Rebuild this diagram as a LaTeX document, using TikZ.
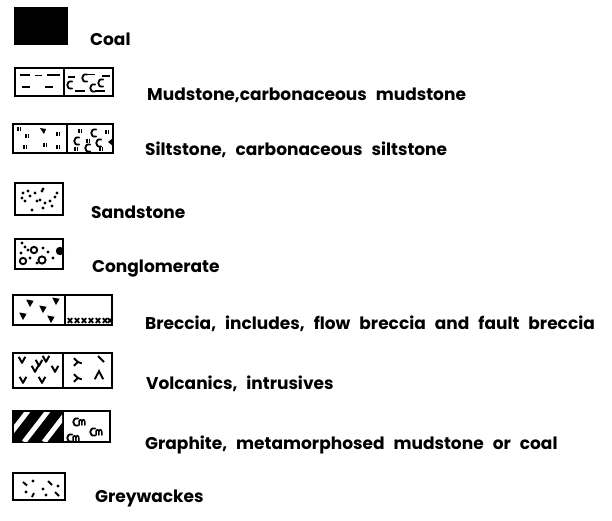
\documentclass[tikz,border=0pt]{standalone}
\usepackage{fontspec}
\setmainfont{Poppins}
\usetikzlibrary{positioning}

\newcommand\lblfont{\fontsize{17}{20}\selectfont\bfseries\spaceskip 9pt\relax}

\tikzset{
  cee/.pic={\draw[line width=1.8pt, line cap=round] (3.2,-3.4) .. controls (-3.4,-5.4) and (-3.4,5.4) .. (3.2,3.4);},
  emm/.pic={\draw[line width=1.5pt, line cap=round] (0,3) -- (0,0) .. controls (0,-3) and (2.9,-3) .. (2.9,0) -- (2.9,3)
                (2.9,0) .. controls (2.9,-3) and (5.8,-3) .. (5.8,0) -- (5.8,3);},
  quote/.pic={\draw[line width=1.8pt] (-1.3,-2.2) -- (-1.3,2.2) (1.5,-2.2) -- (1.5,2.2);},
  vee/.pic={\draw[line width=2pt, line join=round] (-3.3,-3.2) -- (0,2.8) -- (3.3,-3.2);},
  tri/.pic={\fill[line join=round] (-3.8,-3.5) -- (3.6,-2.2) -- (0,4) -- cycle;},
  ecks/.pic={\draw[line width=1.8pt] (-2.2,-2.4) -- (2.2,2.4) (-2.2,2.4) -- (2.2,-2.4);},
  fork/.pic={\draw[line width=1.9pt] (-4.2,-3.8) -- (0,0) -- (-4.2,3.8) (0,0) -- (3.8,1.3);},
  lam/.pic={\draw[line width=1.9pt] (-4.2,4.2) -- (0,-3.8) -- (4.2,4.2);},
}

\begin{document}
\begin{tikzpicture}[
  x=1pt, y=-1pt,
  swatch/.style={rectangle, draw, line width=2pt, inner sep=0pt, outer sep=0pt, anchor=north west},
  lbl/.style={anchor=base west, inner sep=0pt, font=\lblfont},
  grain/.style={fill, radius=1.6},
  stroke/.style={line width=1.9pt},
]
\useasboundingbox (0,0) rectangle (612,520);

% coal
\node[swatch, fill=black, minimum width=52pt, minimum height=36pt] (coal) at (15,8) {};
\node[lbl] (coaltxt) at (90,45) {Coal};

% mudstone
\node[swatch, minimum width=49pt, minimum height=28pt] (mudA) at (15,68) {};
\node[swatch, minimum width=49pt, minimum height=28pt, anchor=west, right=0pt of mudA] (mudB) {};
\begin{scope}[shift={(mudA.north west)}]
  \draw[stroke] (5,7) -- (15,7) (20,7.5) -- (27,7.5) (32,7) -- (45,7) (7,19) -- (15,19) (30,19) -- (38,19);
\end{scope}
\begin{scope}[shift={(mudB.north west)}]
  \draw[stroke] (4,9) -- (11,9) (24,6.5) -- (31,6.5) (38,8) -- (46,8) (11,23) -- (21,23) (31,23) -- (41,23);
  \foreach \p in {(20,10),(36,15),(5,17),(28,20)} \pic at \p {cee};
\end{scope}
\node[lbl] (mudtxt) at (147,100) {Mudstone,carbonaceous mudstone};

% siltstone
\node[swatch, minimum width=54pt, minimum height=29pt] (siltA) at (13,124) {};
\node[swatch, minimum width=46pt, minimum height=29pt, anchor=west, right=0pt of siltA] (siltB) {};
\begin{scope}[shift={(siltA.north west)}]
  \foreach \p in {(6,5),(14,12),(45,10),(12,23),(32,21),(45,23)} \pic at \p {quote};
  \fill (27,4) -- (33,5) -- (31,10) -- cycle;
\end{scope}
\begin{scope}[shift={(siltB.north west)}]
  \foreach \p in {(9,17),(26,9),(31,19),(20,24)} \pic at \p {cee};
  \foreach \p in {(13,7),(40,8),(21,17),(9,25),(34,25)} \pic at \p {quote};
  \fill (46,14) -- (41,18) -- (46,22) -- cycle;
\end{scope}
\node[lbl] (silttxt) at (145,155) {Siltstone, carbonaceous siltstone};

% sandstone
\node[swatch, minimum width=48pt, minimum height=32pt] (sand) at (15,183) {};
\begin{scope}[shift={(sand.north west)}]
  \foreach \p in {(8,10),(13,8),(20,10),(27,8),(28,6),(42,10),(7,15),(15,13),(22,18),(25,17),
                  (30,20),(35,18),(37,23),(17,27),(10,18),(28,25),(40,14)}
    \fill[grain] \p circle;
\end{scope}
\node[lbl] (sandtxt) at (91,218) {Sandstone};

% conglomerate
\node[swatch, minimum width=48pt, minimum height=30pt] (cong) at (15,239) {};
\begin{scope}[shift={(cong.north west)}]
  \foreach \p in {(7,4),(10,8),(13,11),(28,9),(38,19),(15,19),(33,13),(22,24),(6,14)}
    \fill[grain] \p circle;
  \draw[line width=1.9pt] (19,11) circle (3.2) (27,21) circle (3.6) (8,22) circle (3.2);
  \fill (45,12) circle (4.2);
\end{scope}
\node[lbl] (congtxt) at (92,272) {Conglomerate};

% breccia
\node[swatch, minimum width=52pt, minimum height=30pt] (brecA) at (13,295) {};
\node[swatch, minimum width=47pt, minimum height=30pt, anchor=west, right=0pt of brecA] (brecB) {};
\begin{scope}[shift={(brecA.north west)}]
  \foreach \p in {(17,8),(30,14),(43,6),(10,21),(38,24)} \pic at \p {tri};
\end{scope}
\begin{scope}[shift={(brecB.north west)}]
  \foreach \x in {5,12,19,26,33,40,45} \pic at (\x,25.5) {ecks};
\end{scope}
\node[lbl] (brectxt) at (145,329) {Breccia, includes, flow breccia and fault breccia};

% volcanics
\node[swatch, minimum width=50pt, minimum height=35pt] (volcA) at (13,353) {};
\node[swatch, minimum width=49pt, minimum height=35pt, anchor=west, right=0pt of volcA] (volcB) {};
\begin{scope}[shift={(volcA.north west)}]
  \foreach \p in {(9,7),(26,10),(33,6),(22,16),(42,16),(10,27),(29,27)} \pic at \p {vee};
\end{scope}
\begin{scope}[shift={(volcB.north west)}]
  \foreach \p in {(15,9),(15,25)} \pic at \p {fork};
  \pic at (36,22) {lam};
  \draw[line width=1.9pt] (35,3) -- (41,9);
\end{scope}
\node[lbl] (volctxt) at (146,389) {Volcanics, intrusives};

% graphite
\node[swatch, fill=black, minimum width=50pt, minimum height=31pt] (graphA) at (13,411) {};
\node[swatch, minimum width=47pt, minimum height=31pt, anchor=west, right=0pt of graphA] (graphB) {};
\begin{scope}[shift={(graphA.north west)}]
  \clip (1,1) rectangle (49,30);
  \foreach \b in {-9,11,31} \draw[white, line width=5pt] (\b,31) -- ++(24,-31);
\end{scope}
\begin{scope}[shift={(graphB.north west)}]
  \foreach \x/\y in {12/11,29/21,6/27} {
    \pic at (\x,\y) {cee};
    \pic at (\x+4,\y) {emm};
  }
\end{scope}
\node[lbl] (graphtxt) at (145,449) {Graphite, metamorphosed mudstone or coal};

% greywackes
\node[swatch, minimum width=52pt, minimum height=27pt] (grey) at (13,473) {};
\begin{scope}[shift={(grey.north west)}]
  \draw[stroke] (10,9) -- (14,12.5) (35,8) -- (39,12) (42,19) -- (46,23) (19,24) -- (21,20);
  \foreach \p in {(20,8),(13,19),(30,16),(33,22),(45,13)} \fill[grain] \p circle;
\end{scope}
\node[lbl] (greytxt) at (95,502) {Greywackes};

\end{tikzpicture}
\end{document}
